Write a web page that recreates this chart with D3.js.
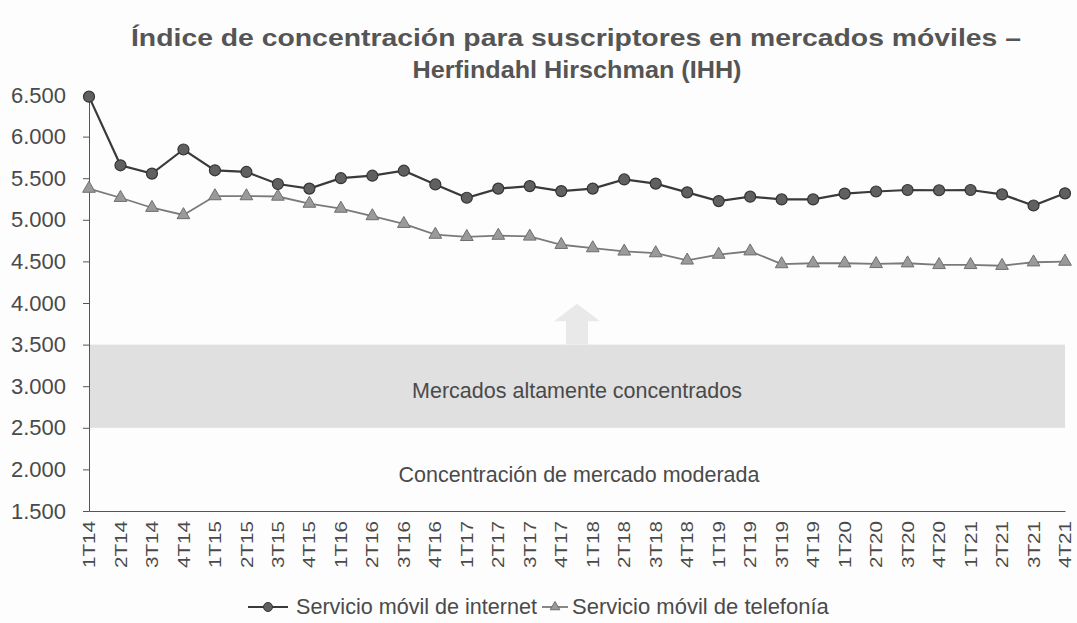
<!DOCTYPE html>
<html>
<head>
<meta charset="utf-8">
<script src="https://cdn.jsdelivr.net/npm/d3@7"></script>
<style>
  body { margin: 0; background: #fdfdfd; }
  svg { font-family: "Liberation Sans", Arial, sans-serif; }
</style>
</head>
<body>
<svg width="1077" height="623"></svg>
<script>
// Quarters on the x axis
const quarters = [
  "1T14","2T14","3T14","4T14","1T15","2T15","3T15","4T15",
  "1T16","2T16","3T16","4T16","1T17","2T17","3T17","4T17",
  "1T18","2T18","3T18","4T18","1T19","2T19","3T19","4T19",
  "1T20","2T20","3T20","4T20","1T21","2T21","3T21","4T21"
];

// IHH values
const internet = [6480, 5655, 5555, 5845, 5595, 5575, 5430, 5375,
                  5500, 5530, 5590, 5425, 5265, 5375, 5405, 5345,
                  5375, 5485, 5435, 5330, 5225, 5278, 5245, 5245,
                  5315, 5340, 5358, 5355, 5358, 5305, 5172, 5318];
const telefonia = [5375, 5265, 5145, 5058, 5285, 5285, 5280, 5195,
                   5135, 5045, 4952, 4822, 4795, 4810, 4800, 4700,
                   4660, 4620, 4600, 4512, 4582, 4622, 4468, 4478,
                   4478, 4470, 4478, 4458, 4458, 4448, 4490, 4498];

const yTicks = [1500, 2000, 2500, 3000, 3500, 4000, 4500, 5000, 5500, 6000, 6500];
const band = [2500, 3500];
const seriesNames = ["Servicio móvil de internet", "Servicio móvil de telefonía"];

const svg = d3.select("svg");
const textColor = "#4a4a4a";

// Scales
const x = d3.scalePoint().domain(quarters).range([89, 1065]);
const y = d3.scaleLinear().domain([1500, 6500]).range([511, 95]);

const fmt = v => d3.format(",")(v).replace(",", ".");

// Title
svg.append("text")
  .attr("x", 576).attr("y", 46)
  .attr("text-anchor", "middle")
  .attr("font-size", 24).attr("font-weight", "bold")
  .attr("fill", "#555")
  .attr("textLength", 890).attr("lengthAdjust", "spacingAndGlyphs")
  .text("Índice de concentración para suscriptores en mercados móviles –");
svg.append("text")
  .attr("x", 577).attr("y", 78)
  .attr("text-anchor", "middle")
  .attr("font-size", 24).attr("font-weight", "bold")
  .attr("fill", "#555")
  .attr("textLength", 329).attr("lengthAdjust", "spacingAndGlyphs")
  .text("Herfindahl Hirschman (IHH)");

// Highly concentrated band
svg.append("rect")
  .attr("x", x.range()[0]).attr("width", x.range()[1] - x.range()[0])
  .attr("y", y(band[1])).attr("height", y(band[0]) - y(band[1]))
  .attr("fill", "#e0e0e0");

// Up arrow above the band
const cx = (x.range()[0] + x.range()[1]) / 2;
svg.append("path")
  .attr("d", `M${cx - 11},${y(band[1])} L${cx - 11},${y(3780)} L${cx - 23},${y(3780)}
              L${cx},${y(3990)} L${cx + 23},${y(3780)} L${cx + 11},${y(3780)} L${cx + 11},${y(band[1])} Z`)
  .attr("fill", "#e9e9e9");

svg.append("text")
  .attr("x", cx).attr("y", y(2860))
  .attr("text-anchor", "middle").attr("font-size", 21.5)
  .attr("fill", textColor)
  .text("Mercados altamente concentrados");
svg.append("text")
  .attr("x", cx + 2).attr("y", y(1850))
  .attr("text-anchor", "middle").attr("font-size", 21.5)
  .attr("fill", textColor)
  .text("Concentración de mercado moderada");

// Y axis
const yAxis = svg.append("g")
  .attr("transform", `translate(${x.range()[0]},0)`)
  .call(d3.axisLeft(y).tickValues(yTicks).tickFormat(fmt).tickSize(6).tickPadding(17));
yAxis.select(".domain").attr("stroke", "#555");
yAxis.selectAll(".tick line").attr("stroke", "#555");
yAxis.selectAll(".tick text")
  .attr("font-size", 22).attr("fill", textColor)
  .attr("font-family", "Liberation Sans, Arial, sans-serif");

// X axis
const xAxis = svg.append("g")
  .attr("transform", `translate(0,${y(1500)})`)
  .call(d3.axisBottom(x).tickSize(0).tickPadding(0));
xAxis.select(".domain").attr("stroke", "#555");
xAxis.selectAll(".tick text")
  .attr("font-size", 16).attr("fill", textColor)
  .attr("font-family", "Liberation Sans, Arial, sans-serif")
  .attr("text-anchor", "end")
  .attr("textLength", 47).attr("lengthAdjust", "spacingAndGlyphs")
  .attr("transform", "translate(0,10) rotate(-90)")
  .attr("x", 0).attr("y", 0).attr("dy", "0.35em");

// Lines
const line = d3.line().x((d, i) => x(quarters[i])).y(d => y(d));

svg.append("path").datum(telefonia)
  .attr("d", line).attr("fill", "none")
  .attr("stroke", "#7a7a7a").attr("stroke-width", 1.8);
svg.append("path").datum(internet)
  .attr("d", line).attr("fill", "none")
  .attr("stroke", "#3a3a3a").attr("stroke-width", 2.2);

const tri = d3.symbol().type(d3.symbolTriangle).size(70);

svg.append("g").selectAll("path")
  .data(telefonia).join("path")
  .attr("d", tri)
  .attr("transform", (d, i) => `translate(${x(quarters[i])},${y(d)})`)
  .attr("fill", "#9a9a9a").attr("stroke", "#6e6e6e").attr("stroke-width", 1);

svg.append("g").selectAll("circle")
  .data(internet).join("circle")
  .attr("cx", (d, i) => x(quarters[i]))
  .attr("cy", d => y(d))
  .attr("r", 5.5)
  .attr("fill", "#606060").attr("stroke", "#333").attr("stroke-width", 1.2);

// Legend
const legend = svg.append("g").attr("transform", "translate(0,607)");
legend.append("line").attr("x1", 248).attr("x2", 288).attr("stroke", "#3a3a3a").attr("stroke-width", 2);
legend.append("circle").attr("cx", 268).attr("r", 4.5).attr("fill", "#606060").attr("stroke", "#333");
legend.append("text").attr("x", 296).attr("y", 7).attr("font-size", 22).attr("fill", textColor)
  .attr("textLength", 241).attr("lengthAdjust", "spacingAndGlyphs")
  .text(seriesNames[0]);
legend.append("line").attr("x1", 542).attr("x2", 568).attr("stroke", "#7a7a7a").attr("stroke-width", 1.8);
legend.append("path").attr("d", d3.symbol().type(d3.symbolTriangle).size(40))
  .attr("transform", "translate(555,0)").attr("fill", "#9a9a9a").attr("stroke", "#6e6e6e");
legend.append("text").attr("x", 572).attr("y", 7).attr("font-size", 22).attr("fill", textColor)
  .text(seriesNames[1]);
</script>
</body>
</html>
